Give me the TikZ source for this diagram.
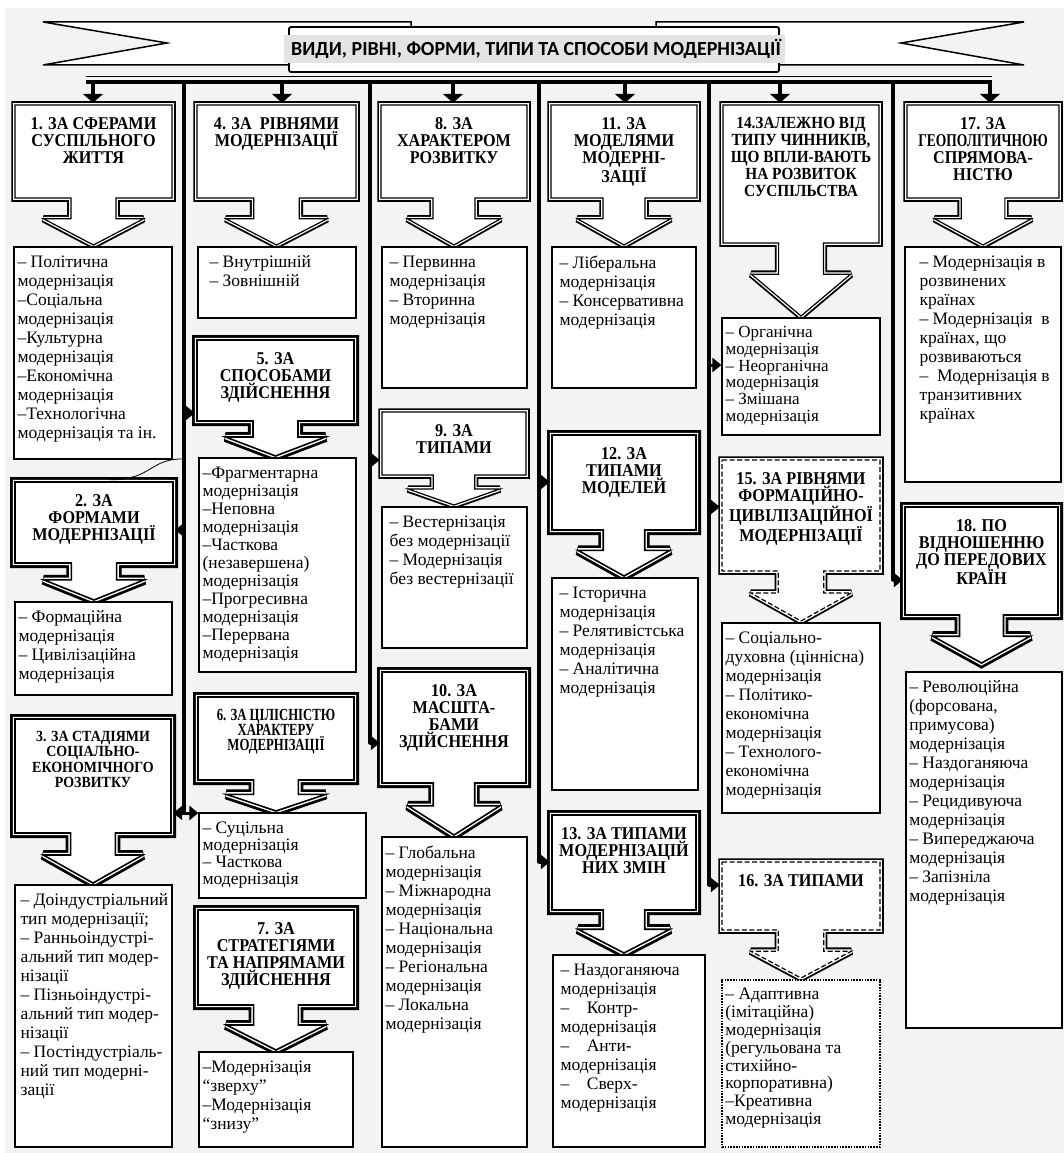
\documentclass[tikz,border=0pt]{standalone}
\usepackage{fontspec}
\setmainfont{Liberation Serif}
\newfontfamily\titlefont{Carlito}
\newfontfamily\hdrfont{Liberation Serif}[FakeStretch=0.9]
\newfontfamily\hdrnarrow{Liberation Serif}[FakeStretch=0.75]
\usetikzlibrary{arrows.meta,fit}
\definecolor{bggray}{HTML}{F3F3F3}
\definecolor{titlegray}{HTML}{E3E3E3}

\newcommand{\hdrbox}[9][]{%
	\pgfmathsetmacro\hdrcx{(#4+#6)/2}%
	\pgfmathsetmacro\hdrsw{0.14*(#6-#4)}%
	\pgfmathsetmacro\hdrww{0.31*(#6-#4)}%
	\pgfmathsetmacro\hdrwy{#7+0.4*(#8-#7)}%
	\node[fit={(#4,#5) (#6,#7)}, inner sep=0pt] (#3) {};
	\draw[#2] (#4+2,#5+2) -- (#6-2,#5+2) -- (#6-2,#7-2) -- (\hdrcx+\hdrsw,#7-2) -- (\hdrcx+\hdrsw,\hdrwy) -- (\hdrcx+\hdrww,\hdrwy) -- (\hdrcx,#8-2) -- (\hdrcx-\hdrww,\hdrwy) -- (\hdrcx-\hdrsw,\hdrwy) -- (\hdrcx-\hdrsw,#7-2) -- (#4+2,#7-2) -- cycle;
	\node[hdrtext, #1] (#3t) at (\hdrcx,#5+14) {#9};
}
\newcommand{\lstbox}[8][lstframe]{%
	\node[#1, fit={(#3,#4) (#5,#6)}] (#2) {};
	\node[lsttext, #7] (#2t) at (#2.north west) {#8};
}

\begin{document}
\begin{tikzpicture}[x=1pt, y=-1pt,
	hdrline/.style={preaction={draw, line width=7.5pt, miter limit=2}, preaction={draw, white, line width=3.8pt, miter limit=2}, preaction={fill=white}, draw, line width=1.2pt},
	hdrbold/.style={preaction={draw, line width=10pt, miter limit=2}, preaction={draw, white, line width=4.4pt, miter limit=2}, preaction={fill=white}, draw, line width=1.6pt},
	hdrdash/.style={hdrline, dash pattern=on 5pt off 2.5pt},
	hdrtext/.style={anchor=north, align=center, inner sep=0pt, font=\hdrfont\bfseries\fontsize{18}{17}\selectfont},
	lstframe/.style={draw, fill=white, line width=1.2pt, inner sep=0pt},
	lstdot/.style={lstframe, line width=1.6pt, dash pattern=on 1.6pt off 1.2pt},
	lstthick/.style={lstframe, line width=1.8pt},
	lsttext/.style={anchor=north west, align=left, inner xsep=4pt, inner ysep=9pt, font=\fontsize{17.5}{19}\selectfont},
	busarr/.style={line width=4.5pt, -{Triangle[width=20pt,length=9pt]}},
	sidearr/.style={line width=3pt, -{Triangle[width=14pt,length=9pt]}},
	vline/.style={line width=3.5pt, line cap=round}]
	\useasboundingbox (0,0) rectangle (1064,1153);
	\fill[white] (0,0) rectangle (1064,1153);
	\fill[bggray] (5,8) rectangle (1064,1153);

	\draw[line width=1.5pt, fill=white] (43,22) -- (411,22) -- (411,65) -- (43,65) -- (167,43) -- cycle;
	\draw[line width=1.5pt, fill=white] (656,22) -- (1024,22) -- (901,43) -- (1024,65) -- (656,65) -- cycle;
	\draw[line width=1.8pt, fill=white, rounded corners=2pt] (289,27) rectangle (779,72);
	\fill[titlegray] (284,35) rectangle (785,63);
	\node[font=\titlefont\bfseries\fontsize{20}{24}\selectfont] (title) at (536,49) {ВИДИ, РІВНІ, ФОРМИ, ТИПИ ТА СПОСОБИ МОДЕРНІЗАЦІЇ};

	\coordinate (busl) at (86,82);
	\coordinate (busr) at (992,82);
	\draw[line width=0.8pt] (86,76) -- (992,76);
	\draw[line width=4.5pt] (busl) -- (busr);
	\coordinate (v1a) at (184,82); \coordinate (v1b) at (184,813);
	\coordinate (v2a) at (370,82); \coordinate (v2b) at (370,743);
	\coordinate (v3a) at (539,82); \coordinate (v3b) at (539,862);
	\coordinate (v4a) at (709,82); \coordinate (v4b) at (709,885);
	\coordinate (v5a) at (893,82); \coordinate (v5b) at (893,580);
	\foreach \v in {1,...,5}
		\draw[vline] (v\v a) -- (v\v b);

	\hdrbox{hdrline}{h1}{13}{103}{174}{200}{247}{1. ЗА СФЕРАМИ\\СУСПІЛЬНОГО\\ЖИТТЯ}
	\lstbox{l1}{14}{247}{172}{459}{}{– Політична\\модернізація\\–Соціальна\\модернізація\\–Культурна\\модернізація\\–Економічна\\модернізація\\–Технологічна\\модернізація та ін.}
	\hdrbox{hdrbold}{h2}{13}{480}{175}{565}{602}{2. ЗА\\ФОРМАМИ\\МОДЕРНІЗАЦІЇ}
	\lstbox{l2}{15}{602}{172}{695}{}{– Формаційна\\модернізація\\– Цивілізаційна\\модернізація}
	\hdrbox[font=\hdrfont\bfseries\fontsize{15.5}{15.5}\selectfont]{hdrbold}{h3}{13}{717}{173}{835}{885}{3. ЗА СТАДІЯМИ\\СОЦІАЛЬНО-\\ЕКОНОМІЧНОГО\\РОЗВИТКУ}
	\lstbox{l3}{15}{885}{172}{1147}{xshift=2pt}{– Доіндустріальний\\тип модернізації;\\– Ранньоіндустрі-\\альний тип модер-\\нізації\\– Пізньоіндустрі-\\альний тип модер-\\нізації\\– Постіндустріаль-\\ний тип модерні-\\зації}

	\hdrbox{hdrline}{h4}{195}{103}{358}{200}{247}{4. ЗА~~РІВНЯМИ\\МОДЕРНІЗАЦІЇ}
	\lstbox{l4}{198}{247}{356}{318}{xshift=8pt}{– Внутрішній\\– Зовнішній}
	\hdrbox{hdrbold}{h5}{195}{338}{356}{423}{458}{5. ЗА\\СПОСОБАМИ\\ЗДІЙСНЕННЯ}
	\lstbox{l5}{199}{458}{356}{672}{font=\fontsize{17.5}{18}\selectfont}{–Фрагментарна\\модернізація\\–Неповна\\модернізація\\–Часткова\\(незавершена)\\модернізація\\–Прогресивна\\модернізація\\–Перервана\\модернізація}
	\hdrbox[font=\hdrnarrow\bfseries\fontsize{17}{15}\selectfont]{hdrbold}{h6}{196}{695}{356}{782}{813}{6. ЗА ЦІЛІСНІСТЮ\\ХАРАКТЕРУ\\МОДЕРНІЗАЦІЇ}
	\lstbox{l6}{199}{813}{366}{898}{font=\fontsize{17.5}{17}\selectfont}{– Суцільна\\модернізація\\– Часткова\\модернізація}
	\hdrbox{hdrbold}{h7}{196}{908}{356}{1007}{1052}{7. ЗА\\СТРАТЕГІЯМИ\\ТА НАПРЯМАМИ\\ЗДІЙСНЕННЯ}
	\lstbox{l7}{199}{1052}{353}{1147}{}{–Модернізація\\“зверху”\\–Модернізація\\“знизу”}

	\hdrbox{hdrline}{h8}{379}{103}{529}{200}{247}{8. ЗА\\ХАРАКТЕРОМ\\РОЗВИТКУ}
	\lstbox{l8}{382}{247}{527}{388}{xshift=4pt}{– Первинна\\модернізація\\– Вторинна\\модернізація}
	\hdrbox{hdrline}{h9}{380}{410}{528}{477}{507}{9. ЗА\\ТИПАМИ}
	\lstbox{l9}{382}{507}{527}{648}{xshift=4pt}{– Вестернізація\\без модернізації\\– Модернізація\\без вестернізації}
	\hdrbox{hdrbold}{h10}{380}{670}{528}{785}{837}{10. ЗА\\МАСШТА-\\БАМИ\\ЗДІЙСНЕННЯ}
	\lstbox{l10}{382}{837}{527}{1147}{}{– Глобальна\\модернізація\\– Міжнародна\\модернізація\\– Національна\\модернізація\\– Регіональна\\модернізація\\– Локальна\\модернізація}

	\hdrbox{hdrline}{h11}{549}{103}{699}{200}{247}{11. ЗА\\МОДЕЛЯМИ\\МОДЕРНІ-\\ЗАЦІЇ}
	\lstbox{l11}{552}{247}{696}{388}{xshift=4pt}{– Ліберальна\\модернізація\\– Консервативна\\модернізація}
	\hdrbox{hdrbold}{h12}{550}{433}{698}{532}{578}{12. ЗА\\ТИПАМИ\\МОДЕЛЕЙ}
	\lstbox{l12}{552}{578}{698}{790}{xshift=4pt}{– Історична\\модернізація\\– Релятивістська\\модернізація\\– Аналітична\\модернізація}
	\hdrbox{hdrbold}{h13}{550}{813}{698}{912}{955}{13. ЗА ТИПАМИ\\МОДЕРНІЗАЦІЙ\\НИХ ЗМІН}
	\lstbox{l13}{553}{955}{705}{1147}{xshift=4pt}{– Наздоганяюча\\модернізація\\–\quad Контр-\\модернізація\\–\quad Анти-\\модернізація\\–\quad Сверх-\\модернізація}

	\hdrbox[font=\hdrfont\bfseries\fontsize{17}{17}\selectfont]{hdrline}{h14}{721}{103}{881}{245}{318}{14.ЗАЛЕЖНО ВІД\\ТИПУ ЧИННИКІВ,\\ЩО ВПЛИ-ВАЮТЬ\\НА РОЗВИТОК\\СУСПІЛЬСТВА}
	\lstbox{l14}{722}{318}{880}{435}{font=\fontsize{17}{16.7}\selectfont}{– Органічна\\модернізація\\– Неорганічна\\модернізація\\– Змішана\\модернізація}
	\hdrbox{hdrdash}{h15}{720}{458}{882}{573}{623}{15. ЗА РІВНЯМИ\\ФОРМАЦІЙНО-\\ЦИВІЛІЗАЦІЙНОЇ\\МОДЕРНІЗАЦІЇ}
	\lstbox{l15}{722}{623}{880}{813}{}{– Соціально-\\духовна (ціннісна)\\модернізація\\– Політико-\\економічна\\модернізація\\– Технолого-\\економічна\\модернізація}
	\hdrbox{hdrdash}{h16}{720}{860}{882}{932}{980}{16. ЗА ТИПАМИ}
	\lstbox[lstdot]{l16}{722}{980}{880}{1147}{font=\fontsize{17.5}{17.8}\selectfont}{– Адаптивна\\(імітаційна)\\модернізація\\(регульована та\\стихійно-\\корпоративна)\\–Креативна\\модернізація}

	\hdrbox{hdrline}{h17}{905}{103}{1061}{200}{247}{17. ЗА\\{\hdrnarrow ГЕОПОЛІТИЧНОЮ}\\СПРЯМОВА-\\НІСТЮ}
	\lstbox{l17}{905}{247}{1061}{482}{xshift=11pt}{– Модернізація в\\розвинених\\країнах\\– Модернізація~~в\\країнах, що\\розвиваються\\–~~Модернізація в\\транзитивних\\країнах}
	\hdrbox{hdrbold}{h18}{903}{505}{1060}{617}{665}{18. ПО\\ВІДНОШЕННЮ\\ДО ПЕРЕДОВИХ\\КРАЇН}
	\lstbox[lstthick]{l18}{906}{672}{1062}{1028}{}{– Революційна\\(форсована,\\примусова)\\модернізація\\– Наздоганяюча\\модернізація\\– Рецидивуюча\\модернізація\\– Випереджаюча\\модернізація\\– Запізніла\\модернізація}

	\coordinate (d1) at (93,82);
	\coordinate (d2) at (282,82);
	\coordinate (d3) at (453,82);
	\coordinate (d4) at (625,82);
	\coordinate (d5) at (780,82);
	\coordinate (d6) at (990,82);
	\draw[busarr] (d1) -- (d1 |- h1.north);
	\draw[busarr] (d2) -- (d2 |- h4.north);
	\draw[busarr] (d3) -- (d3 |- h8.north);
	\draw[busarr] (d4) -- (d4 |- h11.north);
	\draw[busarr] (d5) -- (d5 |- h14.north);
	\draw[busarr] (d6) -- (d6 |- h17.north);

	\draw[sidearr] (v1a |- 0,413) -- (h5.west |- 0,413);
	\draw[sidearr] (v1a |- 0,530) -- (h2.east |- 0,530);
	\draw[sidearr] (v1b) -- (h3.east |- v1b);
	\draw[sidearr] (v1b) -- (l6.west |- v1b);
	\draw[sidearr] (v2a |- 0,460) -- (h9.west |- 0,460);
	\draw[sidearr] (v2b) -- (h10.west |- v2b);
	\draw[sidearr] (v3a |- 0,482) -- (h12.west |- 0,482);
	\draw[sidearr] (v3b) -- (h13.west |- v3b);
	\draw[sidearr] (v4a |- 0,365) -- (l14.west |- 0,365);
	\draw[sidearr] (v4a |- 0,507) -- (h15.west |- 0,507);
	\draw[sidearr] (v4b) -- (h16.west |- v4b);
	\draw[sidearr] (v5b) -- (h18.west |- v5b);

	\coordinate (cv) at (184,459);
	\draw[line width=0.8pt] (cv) .. controls (150,458) and (152,480) .. (110,0 |- h2.north);
\end{tikzpicture}
\end{document}
